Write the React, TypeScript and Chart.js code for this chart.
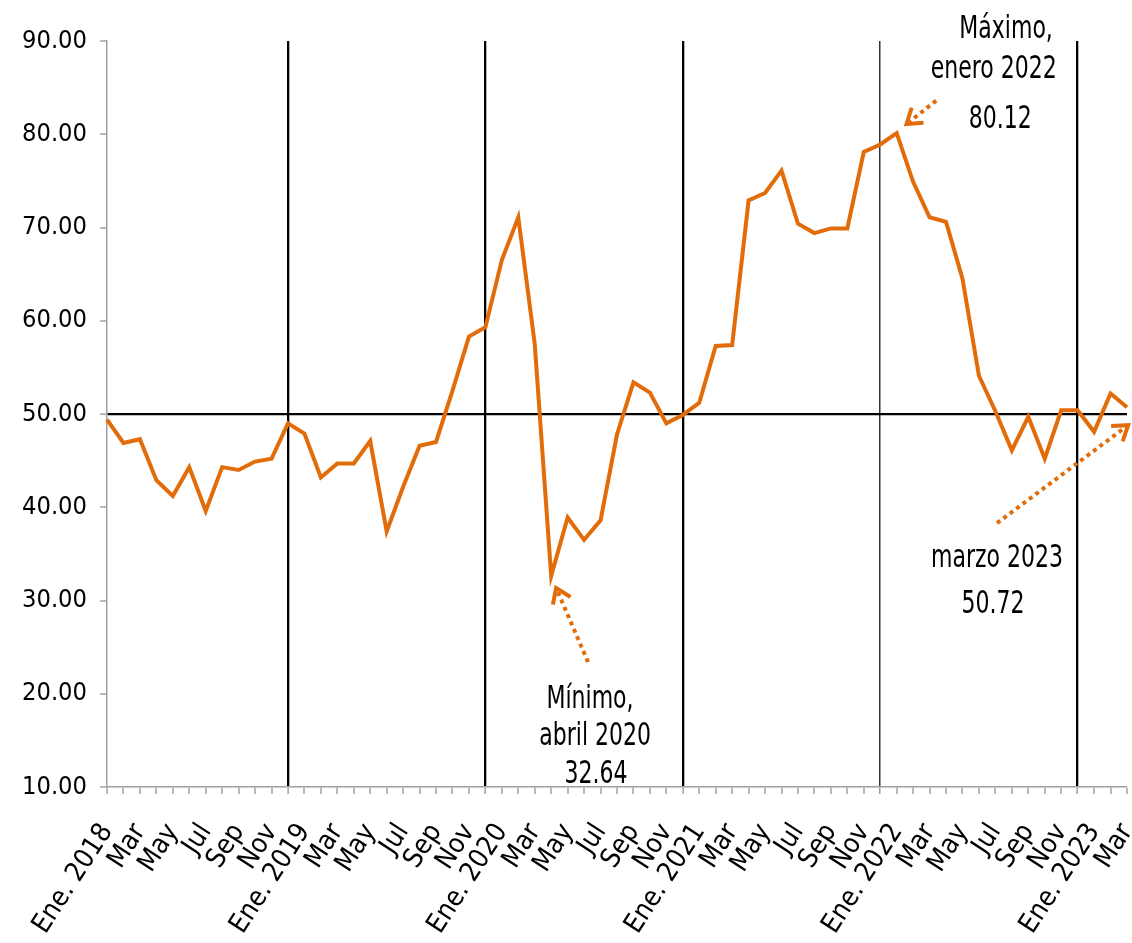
import React, { useEffect, useRef } from 'react';
import { Chart, registerables } from 'chart.js';

Chart.register(...registerables);

const monthLabels: string[] = [
  'Ene. 2018', '', 'Mar', '', 'May', '', 'Jul', '', 'Sep', '', 'Nov', '',
  'Ene. 2019', '', 'Mar', '', 'May', '', 'Jul', '', 'Sep', '', 'Nov', '',
  'Ene. 2020', '', 'Mar', '', 'May', '', 'Jul', '', 'Sep', '', 'Nov', '',
  'Ene. 2021', '', 'Mar', '', 'May', '', 'Jul', '', 'Sep', '', 'Nov', '',
  'Ene. 2022', '', 'Mar', '', 'May', '', 'Jul', '', 'Sep', '', 'Nov', '',
  'Ene. 2023', '', 'Mar',
];

const indexValues: number[] = [
  49.4, 46.9, 47.3, 42.9, 41.2, 44.3, 39.6, 44.3, 44.0, 44.9, 45.2, 49.0,
  47.9, 43.2, 44.7, 44.7, 47.1, 37.4, 42.2, 46.6, 47.0, 52.5, 58.3, 59.3,
  66.5, 71.1, 57.5, 32.64, 38.9, 36.5, 38.6, 47.8, 53.4, 52.3, 49.0, 49.9,
  51.2, 57.3, 57.4, 72.9, 73.7, 76.1, 70.4, 69.4, 69.9, 69.9, 78.1, 78.9,
  80.12, 74.9, 71.1, 70.6, 64.5, 54.1, 50.3, 46.1, 49.7, 45.2, 50.4, 50.4,
  48.1, 52.2, 50.72,
];

const yMin = 10;
const yMax = 90;
const yStep = 10;
const referenceLevel = 50;
const yearDividers: number[] = [11, 23, 35, 47, 59];

// annotation texts in data space: [category index, value]
const noteTexts: { text: string; x: number; y: number }[] = [
  { text: 'Máximo,', x: 54.65, y: 90.3 },
  { text: 'enero 2022', x: 53.9, y: 86.0 },
  { text: '80.12', x: 54.3, y: 80.65 },
  { text: 'Mínimo,', x: 29.36, y: 18.45 },
  { text: 'abril 2020', x: 29.67, y: 14.5 },
  { text: '32.64', x: 29.73, y: 10.45 },
  { text: 'marzo 2023', x: 54.1, y: 33.6 },
  { text: '50.72', x: 53.86, y: 28.65 },
];

const noteArrows: { from: [number, number]; to: [number, number] }[] = [
  { from: [50.4, 83.6], to: [48.6, 81.1] },
  { from: [29.24, 23.4], to: [27.3, 31.35] },
  { from: [54.1, 38.3], to: [62.07, 48.8] },
];

const ORANGE = '#E36C0A';

type FontPick = { family: string; weight: string | undefined; tickSize: number; noteScaleX: number };

const NOTE_SIZE = 32;

function pickFont(): FontPick {
  const c = document.createElement('canvas').getContext('2d') as CanvasRenderingContext2D;
  const sample = 'abcMWmo 0123456789.';
  const measure = (f: string, s: string = sample) => {
    c.font = f;
    return c.measureText(s).width;
  };
  const exists = (fam: string) =>
    measure(`100px '${fam}', monospace`) !== measure('100px monospace') &&
    measure(`100px '${fam}', serif`) !== measure('100px serif');
  let family = "'DejaVu Sans Condensed', 'DejaVu Sans', sans-serif";
  let weight: string | undefined = undefined;
  if (exists('Liberation Sans Narrow')) {
    family = "'Liberation Sans Narrow', sans-serif";
  } else if (exists('Arial Narrow')) {
    family = "'Arial Narrow', sans-serif";
  } else if (exists('Noto Sans')) {
    const n = measure("100px 'Noto Sans'");
    const cd = measure("condensed 100px 'Noto Sans'");
    if (cd < n * 0.93) {
      family = "'Noto Sans', sans-serif";
      weight = 'condensed';
    }
  }
  const pre = weight ? weight + ' ' : '';
  const w = measure(`${pre}100px ${family}`, '90.00');
  let tickSize = (100 * 65) / w;
  tickSize = Math.max(22, Math.min(31, tickSize));
  const nw = measure(`${pre}${NOTE_SIZE}px ${family}`, '80.12');
  const noteScaleX = Math.min(1, 63 / nw);
  return { family, weight, tickSize, noteScaleX };
}

function drawArrow(ctx: CanvasRenderingContext2D, x1: number, y1: number, x2: number, y2: number) {
  const ang = Math.atan2(y2 - y1, x2 - x1);
  const headLen = 17;
  const spread = 0.6;
  ctx.save();
  ctx.strokeStyle = ORANGE;
  ctx.lineWidth = 4;
  ctx.setLineDash([4, 4]);
  ctx.lineCap = 'butt';
  ctx.beginPath();
  ctx.moveTo(x1, y1);
  ctx.lineTo(x2 - Math.cos(ang) * 4, y2 - Math.sin(ang) * 4);
  ctx.stroke();
  ctx.setLineDash([]);
  ctx.lineJoin = 'miter';
  ctx.beginPath();
  ctx.moveTo(x2 - headLen * Math.cos(ang - spread), y2 - headLen * Math.sin(ang - spread));
  ctx.lineTo(x2, y2);
  ctx.lineTo(x2 - headLen * Math.cos(ang + spread), y2 - headLen * Math.sin(ang + spread));
  ctx.stroke();
  ctx.restore();
}

function makeNotesPlugin(font: FontPick) {
  return {
    id: 'notesPlugin',
    afterDatasetsDraw(chart: any) {
      const { ctx } = chart;
      const xs = chart.scales.x;
      const ys = chart.scales.y;
      ctx.save();
      for (const a of noteArrows) {
        drawArrow(
          ctx,
          xs.getPixelForValue(a.from[0]), ys.getPixelForValue(a.from[1]),
          xs.getPixelForValue(a.to[0]), ys.getPixelForValue(a.to[1]),
        );
      }
      ctx.fillStyle = '#000';
      ctx.textAlign = 'center';
      ctx.textBaseline = 'alphabetic';
      ctx.font = `${font.weight ? font.weight + ' ' : ''}${NOTE_SIZE}px ${font.family}`;
      for (const t of noteTexts) {
        ctx.save();
        ctx.translate(xs.getPixelForValue(t.x), ys.getPixelForValue(t.y));
        ctx.scale(font.noteScaleX, 1);
        ctx.fillText(t.text, 0, 0);
        ctx.restore();
      }
      ctx.restore();
    },
  };
}

export default function App() {
  const canvasRef = useRef<HTMLCanvasElement | null>(null);

  useEffect(() => {
    if (!canvasRef.current) return;
    const font = pickFont();
    const tickFont: any = { family: font.family, size: font.tickSize };
    if (font.weight) tickFont.weight = font.weight;
    const xTickFont: any = { ...tickFont, size: font.tickSize + 2 };
    const chart = new Chart(canvasRef.current, {
      type: 'line',
      data: {
        labels: monthLabels,
        datasets: [
          {
            data: indexValues,
            borderColor: ORANGE,
            borderWidth: 4,
            pointRadius: 0,
            tension: 0,
            fill: false,
          },
        ],
      },
      options: {
        animation: false,
        responsive: true,
        maintainAspectRatio: false,
        layout: { padding: { top: 41, right: 5, left: 0, bottom: 0 } },
        plugins: {
          legend: { display: false },
          tooltip: { enabled: false },
        },
        scales: {
          x: {
            offset: false,
            ticks: {
              autoSkip: false,
              maxRotation: 57,
              minRotation: 57,
              color: '#000',
              padding: 24,
              font: xTickFont,
            },
            grid: {
              offset: false,
              color: (c: any) => (yearDividers.includes(c.index) ? (c.index === 47 ? '#333' : '#000') : 'rgba(0,0,0,0)'),
              lineWidth: (c: any) => (yearDividers.includes(c.index) ? (c.index === 47 ? 1.5 : 2.3) : 0),
              tickColor: '#a0a0a0',
              tickLength: 7,
              tickWidth: 1.5,
            },
            border: { color: '#a0a0a0', width: 1.5 },
            afterFit: (s: any) => {
              s.height = 156;
              s.paddingLeft = 0;
              s.paddingRight = 0;
            },
          },
          y: {
            min: yMin,
            max: yMax,
            ticks: {
              stepSize: yStep,
              color: '#000',
              padding: 13,
              font: tickFont,
              callback: (v: any) => Number(v).toFixed(2),
            },
            grid: {
              color: (c: any) => (c.tick && c.tick.value === referenceLevel ? '#000' : 'rgba(0,0,0,0)'),
              lineWidth: (c: any) => (c.tick && c.tick.value === referenceLevel ? 2.3 : 0),
              tickColor: '#a0a0a0',
              tickLength: 7,
              tickWidth: 1.5,
            },
            border: { color: '#a0a0a0', width: 1.5 },
            afterFit: (s: any) => {
              s.width = 107;
              s.paddingTop = 0;
              s.paddingBottom = 0;
            },
          },
        },
      },
      plugins: [makeNotesPlugin(font)],
    });
    return () => chart.destroy();
  }, []);

  return (
    <div style={{ position: 'absolute', left: 0, top: 0, width: 1132, height: 943, background: '#fff' }}>
      <canvas ref={canvasRef} />
    </div>
  );
}
